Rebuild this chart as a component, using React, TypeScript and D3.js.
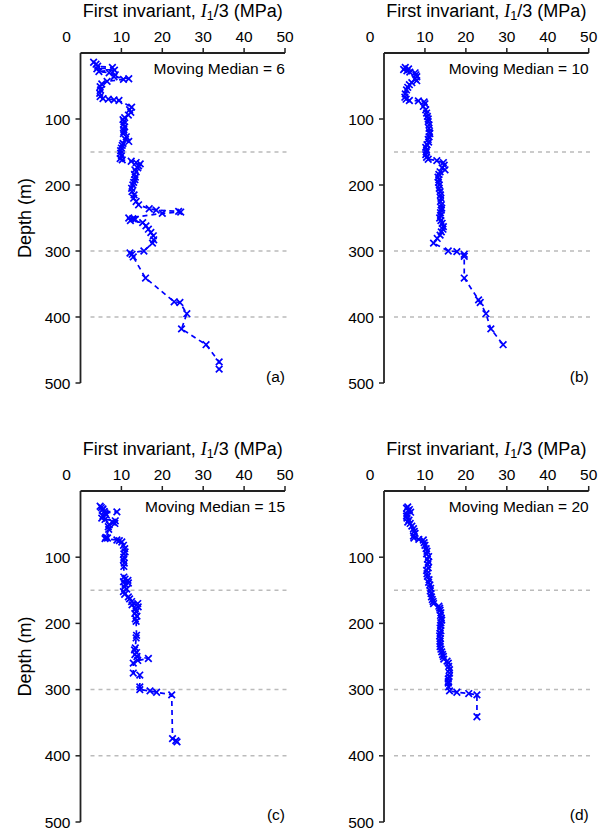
import React from "react";
import * as d3 from "d3";

// ---- data: [depth (m), I1/3 (MPa)] ----
const seriesA: [number, number][] = [
  [14, 3.2], [17, 3.8], [20, 4.2], [22, 7.8], [24, 4.0], [26, 8.3], [28, 4.5], [30, 7.0], [33, 8.5], [36, 8.2],
  [39, 11.8], [40, 10.5], [43, 6.5], [47, 5.2], [51, 4.8], [56, 4.9], [61, 4.7], [66, 4.8], [69, 5.5], [70, 6.8],
  [71, 8.2], [72, 9.4], [82, 12.5], [86, 12.0], [90, 12.3], [94, 11.7], [98, 10.8], [101, 10.4], [104, 10.6],
  [108, 10.5], [112, 10.8], [116, 10.6], [119, 10.6], [122, 10.5], [127, 11.2], [131, 11.0], [134, 11.8],
  [137, 10.4], [140, 10.2], [144, 10.0], [148, 9.8], [152, 9.8], [156, 10.0], [160, 9.7], [162, 10.2],
  [164, 12.4], [166, 13.6], [168, 14.6], [171, 14.2], [174, 14.0], [177, 13.3], [180, 13.6], [184, 13.2],
  [188, 13.4], [192, 13.3], [196, 13.0], [200, 12.8], [205, 12.5], [210, 12.6], [215, 13.1], [220, 13.0],
  [225, 13.6], [230, 14.2], [236, 16.8], [238, 18.5], [240, 24.0], [241, 24.5], [243, 20.0], [250, 11.8],
  [251, 12.8], [252, 13.4], [254, 12.2], [257, 15.2], [262, 16.0], [267, 16.6], [272, 17.2], [277, 17.8],
  [283, 17.9], [288, 17.6], [300, 15.5], [303, 12.1], [305, 12.6], [309, 12.9], [341, 15.9], [377, 22.9],
  [378, 24.3], [395, 26.0], [418, 24.7], [442, 30.7], [468, 33.9], [479, 33.9],
];

const seriesB: [number, number][] = [
  [22, 5.2], [24, 6.0], [25, 4.8], [27, 5.6], [29, 6.3], [30, 7.6], [33, 7.8], [36, 8.0], [39, 7.6], [42, 8.0],
  [45, 6.8], [48, 6.2], [52, 5.8], [56, 5.5], [62, 5.2], [67, 5.1], [70, 5.4], [72, 6.2], [72.5, 8.4], [74, 9.8],
  [77, 10.0], [81, 9.6], [86, 10.2], [91, 10.4], [96, 10.6], [100, 10.8], [104, 10.8], [109, 11.0], [114, 11.0],
  [119, 11.1], [122, 11.2], [127, 11.0], [131, 10.8], [135, 10.9], [139, 10.5], [143, 10.2], [147, 10.4],
  [150, 10.3], [154, 10.2], [158, 10.4], [161, 10.8], [163, 12.9], [166, 14.5], [170, 14.7], [174, 14.2],
  [177, 14.9], [180, 13.7], [184, 13.4], [188, 13.2], [192, 13.4], [196, 13.3], [200, 13.5], [205, 13.5],
  [210, 13.7], [215, 13.8], [220, 13.9], [225, 13.8], [230, 14.0], [235, 14.1], [238, 14.0], [242, 13.8],
  [246, 13.8], [250, 13.6], [254, 13.9], [258, 14.2], [263, 14.5], [267, 14.4], [271, 14.0], [276, 13.7],
  [281, 13.0], [288, 12.1], [300, 15.7], [301, 17.8], [305, 19.6], [308, 19.6], [341, 19.6], [374, 23.1],
  [378, 23.5], [395, 24.9], [418, 26.1], [442, 29.1],
];

const seriesC: [number, number][] = [
  [23, 4.8], [25, 5.1], [27, 5.5], [29, 5.3], [31, 5.8], [31.5, 8.9], [33, 6.0], [36, 6.3], [38, 5.5], [41, 5.2],
  [43, 6.0], [45, 8.5], [47, 7.8], [49, 8.4], [51, 7.0], [54, 6.8], [58, 6.9], [70, 6.2], [71, 6.6], [72, 6.0],
  [74, 8.9], [75, 9.5], [77, 10.1], [82, 10.5], [87, 10.8], [92, 10.9], [95, 10.6], [100, 10.6], [104, 10.5],
  [109, 10.7], [114, 10.6], [130, 10.6], [133, 10.9], [135, 11.6], [137, 10.5], [139, 11.7], [141, 10.9],
  [145, 10.7], [148, 11.3], [152, 10.5], [156, 10.8], [160, 11.7], [163, 12.0], [167, 12.5], [170, 14.0],
  [172, 12.6], [175, 14.1], [178, 13.4], [182, 13.6], [185, 13.3], [189, 13.8], [193, 13.4], [197, 13.6],
  [218, 13.7], [222, 13.6], [237, 13.4], [240, 13.2], [244, 13.7], [247, 13.3], [250, 13.8], [253, 16.6],
  [256, 14.0], [260, 12.9], [275, 12.9], [278, 14.5], [296, 14.5], [300, 14.5], [302, 17.0], [304, 18.6],
  [308, 22.3], [374, 22.5], [377, 23.3], [379, 23.6],
];

const seriesD: [number, number][] = [
  [24, 5.8], [26, 5.5], [28, 6.2], [30, 5.9], [32, 6.5], [35, 5.6], [38, 5.5], [41, 5.6], [44, 6.1], [47, 5.8],
  [49, 6.4], [53, 6.8], [57, 7.2], [61, 7.4], [64, 7.6], [68, 7.2], [71, 7.3], [73, 8.5], [74, 9.6], [78, 9.8],
  [82, 10.0], [87, 10.3], [91, 10.5], [95, 10.4], [99, 10.9], [103, 10.6], [107, 10.9], [111, 10.7], [116, 10.8],
  [120, 10.4], [125, 10.5], [129, 10.6], [134, 11.0], [138, 10.9], [142, 11.2], [147, 11.4], [151, 11.3],
  [155, 11.5], [160, 11.6], [164, 11.8], [167, 12.0], [170, 12.1], [174, 13.4], [177, 13.6], [180, 13.7],
  [184, 13.9], [188, 13.8], [192, 14.0], [195, 14.1], [199, 13.9], [203, 13.8], [207, 13.7], [211, 13.9],
  [215, 13.7], [219, 13.6], [223, 13.8], [227, 13.7], [231, 13.7], [235, 13.7], [239, 13.9], [243, 14.1],
  [247, 14.3], [250, 14.5], [254, 14.6], [257, 15.4], [260, 15.7], [265, 15.8], [270, 16.0], [275, 16.0],
  [280, 15.9], [284, 15.7], [288, 15.7], [290, 15.7], [296, 15.8], [302, 16.0], [304, 17.8], [306, 20.7],
  [308, 22.7], [341, 22.7],
];

const xTicks = [10, 20, 30, 40, 50];
const yTicks = [100, 200, 300, 400, 500];
const gridDepths = [150, 300, 400];
const medianWindows = [6, 10, 15, 20];
const panelTags = ["(a)", "(b)", "(c)", "(d)"];

const FONT = "'Liberation Sans', Arial, Helvetica, sans-serif";
const BLUE = "#0000ff";
const AXIS = "#222222";
const TEXT = "#000000";

const panels = [
  { data: seriesA, x0: 80.5, x1: 285, y0: 53, y1: 383 },
  { data: seriesB, x0: 384, x1: 588.7, y0: 53, y1: 383 },
  { data: seriesC, x0: 80.5, x1: 285, y0: 491, y1: 822 },
  { data: seriesD, x0: 384, x1: 588.7, y0: 491, y1: 822 },
];

function Panel({ idx }: { idx: number }) {
  const p = panels[idx];
  const x = d3.scaleLinear().domain([0, 50]).range([p.x0, p.x1]);
  const y = d3.scaleLinear().domain([0, 500]).range([p.y0, p.y1]);
  const line = d3
    .line<[number, number]>()
    .x((d) => x(d[1]))
    .y((d) => y(d[0]));
  const s = 3.3;
  const fs = 15.5;
  const ts = 18;
  return (
    <g>
      {/* grid */}
      {gridDepths.map((g) => (
        <line
          key={g}
          x1={p.x0 + 10}
          x2={p.x1 + 3}
          y1={y(g)}
          y2={y(g)}
          stroke="#bbbbbb"
          strokeWidth={1.5}
          strokeDasharray="4,4"
        />
      ))}
      {/* axes */}
      <line x1={p.x0} x2={p.x1} y1={p.y0} y2={p.y0} stroke={AXIS} strokeWidth={1.8} />
      <line x1={p.x0} x2={p.x0} y1={p.y0} y2={p.y1} stroke={AXIS} strokeWidth={1.8} />
      {xTicks.map((t) => (
        <g key={t}>
          <line x1={x(t)} x2={x(t)} y1={p.y0} y2={p.y0 - 5} stroke={AXIS} strokeWidth={1.5} />
          <text x={x(t)} y={p.y0 - 11} textAnchor="middle" fontSize={fs} fontFamily={FONT} fill={TEXT}>
            {t}
          </text>
        </g>
      ))}
      <text x={x(0) - 14} y={p.y0 - 11} textAnchor="middle" fontSize={fs} fontFamily={FONT} fill={TEXT}>
        0
      </text>
      {yTicks.map((t) => (
        <g key={t}>
          <line x1={p.x0} x2={p.x0 - 5} y1={y(t)} y2={y(t)} stroke={AXIS} strokeWidth={1.5} />
          <text
            x={p.x0 - 10}
            y={y(t)}
            dy="0.36em"
            textAnchor="end"
            fontSize={fs}
            fontFamily={FONT}
            fill={TEXT}
          >
            {t}
          </text>
        </g>
      ))}
      {/* title */}
      <text
        x={(p.x0 + p.x1) / 2}
        y={p.y0 - 36}
        textAnchor="middle"
        fontSize={ts}
        fontFamily={FONT}
        fill={TEXT}
      >
        <tspan>First invariant, </tspan>
        <tspan fontFamily="'Liberation Serif', 'Times New Roman', serif" fontStyle="italic">
          I
        </tspan>
        <tspan fontSize={ts * 0.7} dy={3}>
          1
        </tspan>
        <tspan dy={-3}>/3 (MPa)</tspan>
      </text>
      {/* depth label */}
      {idx % 2 === 0 && (
        <text
          transform={`translate(31,${(p.y0 + p.y1) / 2}) rotate(-90)`}
          textAnchor="middle"
          fontSize={ts}
          fontFamily={FONT}
          fill={TEXT}
        >
          Depth (m)
        </text>
      )}
      <text x={p.x1} y={p.y0 + 21} textAnchor="end" fontSize={fs} fontFamily={FONT} fill={TEXT}>
        {`Moving Median = ${medianWindows[idx]}`}
      </text>
      <text x={p.x1} y={p.y0 + 329} textAnchor="end" fontSize={fs} fontFamily={FONT} fill={TEXT}>
        {panelTags[idx]}
      </text>
      {/* series */}
      <path
        d={line(p.data) || ""}
        fill="none"
        stroke={BLUE}
        strokeWidth={1.7}
        strokeDasharray="5,4"
      />
      {p.data.map((d, i) => {
        const cx = x(d[1]);
        const cy = y(d[0]);
        return (
          <path
            key={i}
            d={`M${cx - s},${cy - s}L${cx + s},${cy + s}M${cx - s},${cy + s}L${cx + s},${cy - s}`}
            stroke={BLUE}
            strokeWidth={1.7}
            fill="none"
          />
        );
      })}
    </g>
  );
}

export default function App() {
  return (
    <div style={{ position: "absolute", left: 0, top: 0 }}>
      <svg width={613} height={832} style={{ display: "block", background: "#fff" }}>
        {panels.map((_, i) => (
          <Panel key={i} idx={i} />
        ))}
      </svg>
    </div>
  );
}
